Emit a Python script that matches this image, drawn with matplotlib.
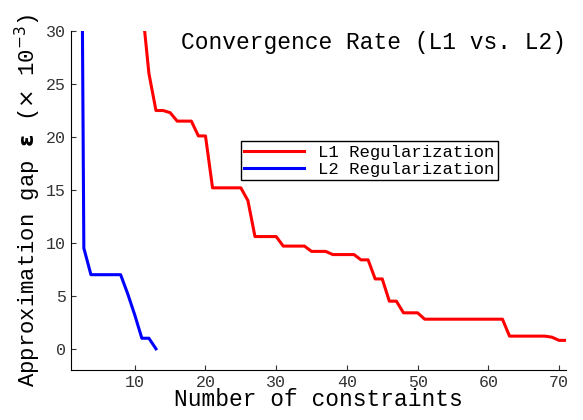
import matplotlib
matplotlib.use("Agg")
import matplotlib.pyplot as plt

l1_x = [11.4, 12, 13, 14, 15, 16, 18, 19, 20, 21, 25, 26, 27, 30, 31, 34, 35, 37, 38, 41, 42, 43,
        44, 45, 46, 47, 48, 50, 51, 62, 63, 68, 69, 70, 71]
l1_y = [30, 26, 22.5, 22.5, 22.3, 21.5, 21.5, 20.1, 20.1, 15.2, 15.2, 14, 10.6, 10.6, 9.7, 9.7, 9.2,
        9.2, 8.9, 8.9, 8.4, 8.4, 6.6, 6.6, 4.5, 4.5, 3.4, 3.4, 2.8, 2.8, 1.2, 1.2, 1.1, 0.8, 0.8]
l2_x = [2.6, 2.8, 3.8, 8, 9, 10, 11, 12, 13]
l2_y = [30, 9.5, 7.0, 7.0, 5.2, 3.2, 1.0, 1.0, 0.0]

plt.rcParams["font.family"] = ["Liberation Mono", "DejaVu Sans Mono"]

fig = plt.figure(figsize=(5.83, 4.2), dpi=100)
ax = fig.add_axes([0.122, 0.119, 0.849, 0.807])
ax.plot(l1_x, l1_y, color="red", lw=2.2, label="L1 Regularization")
ax.plot(l2_x, l2_y, color="blue", lw=2.2, label="L2 Regularization")
ax.set_xlim(1, 71)
ax.set_ylim(-2, 30)
ax.set_xticks(range(10, 71, 10))
ax.set_yticks(range(0, 31, 5))
ax.tick_params(direction="in", labelsize=12, colors="#333333")
for s in ["top", "right"]:
    ax.spines[s].set_visible(False)
ax.set_xlabel("Number of constraints", fontsize=16.5, labelpad=-1)
ax.set_ylabel(r"Approximation gap $\mathbf{\epsilon}$ ($\times$ 10$^{-3}$)", fontsize=16, labelpad=2)
ax.text(1.0, 1.0, "Convergence Rate (L1 vs. L2)", transform=ax.transAxes,
        ha="right", va="top", fontsize=16.5)
leg = ax.legend(loc="upper left", bbox_to_anchor=(0.325, 0.70), fontsize=12.4,
                fancybox=False, edgecolor="black", framealpha=1,
                borderpad=0.2, labelspacing=0.1, handlelength=3.5)
plt.savefig("out.png", dpi=100)
